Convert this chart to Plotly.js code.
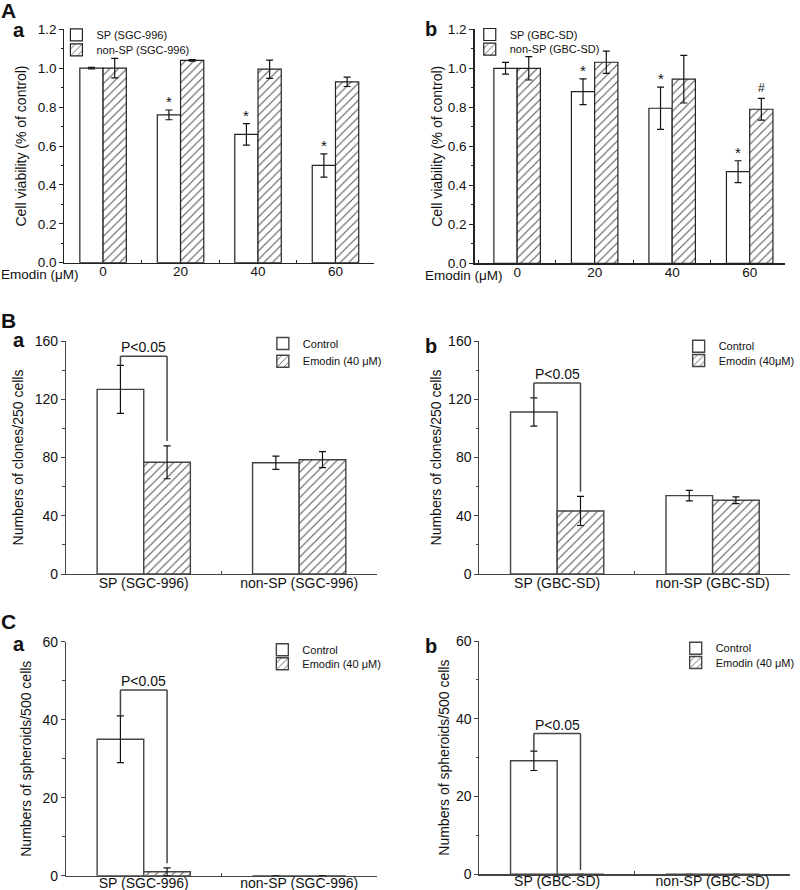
<!DOCTYPE html>
<html>
<head>
<meta charset="utf-8">
<script src="https://cdn.plot.ly/plotly-3.0.1.min.js"></script>
<style>html,body{margin:0;padding:0;background:#fff}#chart{width:800px;height:890px}</style>
</head>
<body>
<div id="chart"></div>
<script>
// ---------- DATA ----------
const doseLabels = ['0', '20', '40', '60'];

// Panel A-a (SGC-996)
const aaSP = [1.00, 0.76, 0.66, 0.50];
const aaSPErr = [0.004, 0.025, 0.055, 0.06];
const aaNon = [1.00, 1.04, 0.995, 0.93];
const aaNonErr = [0.05, 0.004, 0.047, 0.024];
const aaSPMarks = ['', '*', '*', '*'];
const aaNonMarks = ['', '', '', ''];

// Panel A-b (GBC-SD)
const abSP = [1.00, 0.88, 0.795, 0.47];
const abSPErr = [0.03, 0.066, 0.108, 0.056];
const abNon = [1.00, 1.031, 0.944, 0.79];
const abNonErr = [0.06, 0.057, 0.122, 0.056];
const abSPMarks = ['', '*', '*', '*'];
const abNonMarks = ['', '', '', '#'];

// Panel B (clones/250 cells)
const groupsSGC = ['SP (SGC-996)', 'non-SP (SGC-996)'];
const groupsGBC = ['SP (GBC-SD)', 'non-SP (GBC-SD)'];
const baCtrl = [126.8, 76.4];
const baCtrlErr = [16.5, 4.5];
const baEmo = [76.7, 78.5];
const baEmoErr = [11.3, 5.5];
const bbCtrl = [111.2, 53.8];
const bbCtrlErr = [9.7, 3.6];
const bbEmo = [43.3, 50.6];
const bbEmoErr = [10.0, 2.3];

// Panel C (spheroids/500 cells)
const caCtrl = [35.0, 0];
const caCtrlErr = [6.0, null];
const caEmo = [1.0, 0];
const caEmoErr = [1.0, null];
const cbCtrl = [29.2, 0];
const cbCtrlErr = [2.5, null];
const cbEmo = [0, 0];
const cbEmoErr = [null, null];

// significance brackets (Ba, Bb, Ca, Cb): top height and right-leg end
const bracketTop = [149.5, 131.2, 47.6, 36.2];
const bracketRightEnd = [91.3, 56.5, 3.2, 1.1];
const bracketText = 'P<0.05';

// ---------- STYLE ----------
const W = 800, H = 890;
const FONT = 'Arial, "Liberation Sans", sans-serif';
const BARGAP = 0.4;
const BARW = (1 - BARGAP) / 2;
const px = v => v / W;
const py = v => 1 - v / H;

const hatch = {shape: '/', fgcolor: '#555', bgcolor: '#fff', size: 6, solidity: 0.18};

const panels = [
  {xa: 'x', ya: 'y', cats: doseLabels, s: [aaSP, aaNon], e: [aaSPErr, aaNonErr],
   names: ['SP (SGC-996)', 'non-SP (SGC-996)'], marks: [aaSPMarks, aaNonMarks], col: '#222', blw: 1.2,
   xd: [65, 378], yd: [29.3, 262.7], xr: [-0.5, 3.5], yr: [0, 1.2], dt: 0.2, mdt: 0.1, fmt: '.1f',
   title: 'Cell viability (% of control)', tickSize: 13.5, so: 7, tls: -4, leg: [[80, 34.3], [80, 49.3]]},
  {xa: 'x2', ya: 'y2', cats: doseLabels, s: [abSP, abNon], e: [abSPErr, abNonErr],
   names: ['SP (GBC-SD)', 'non-SP (GBC-SD)'], marks: [abSPMarks, abNonMarks], col: '#222', blw: 1.2,
   xd: [479.3, 792.5], yd: [29.3, 263.3], xr: [-0.55, 3.45], yr: [0, 1.2], dt: 0.2, mdt: 0.1, fmt: '.1f',
   title: 'Cell viability (% of control)', tickSize: 13.5, so: 2, tls: -4, leg: [[497.5, 34], [497.5, 48.7]]},
  {xa: 'x3', ya: 'y3', cats: groupsSGC, s: [baCtrl, baEmo], e: [baCtrlErr, baEmoErr],
   names: ['Control', 'Emodin (40 μM)'], br: 0, col: '#444', blw: 1.4,
   xd: [66.7, 380.7], yd: [341, 574], xr: [-0.5, 1.5], yr: [0, 160], dt: 40, mdt: 20, fmt: '',
   title: 'Numbers of clones/250 cells', tickSize: 14, so: 7, tls: -4, leg: [[288.5, 343], [288.5, 360.7]]},
  {xa: 'x4', ya: 'y4', cats: groupsGBC, s: [bbCtrl, bbEmo], e: [bbCtrlErr, bbEmoErr],
   names: ['Control', 'Emodin (40μM)'], br: 1, col: '#444', blw: 1.4,
   xd: [484.3, 798.3], yd: [341, 574], xr: [-0.5, 1.5], yr: [0, 160], dt: 40, mdt: 20, fmt: '',
   title: 'Numbers of clones/250 cells', tickSize: 14, so: 3, tls: -4, leg: [[708.5, 345.7], [708.5, 360]]},
  {xa: 'x5', ya: 'y5', cats: groupsSGC, s: [caCtrl, caEmo], e: [caCtrlErr, caEmoErr],
   names: ['Control', 'Emodin (40 μM)'], br: 2, col: '#444', blw: 1.4,
   xd: [66.7, 380.7], yd: [641.7, 875.7], xr: [-0.5, 1.5], yr: [0, 60], dt: 20, mdt: 10, fmt: '',
   title: 'Numbers of spheroids/500 cells', tickSize: 14, so: 7, tls: -6, leg: [[288, 649.3], [288, 663.3]]},
  {xa: 'x6', ya: 'y6', cats: groupsGBC, s: [cbCtrl, cbEmo], e: [cbCtrlErr, cbEmoErr],
   names: ['Control', 'Emodin (40 μM)'], br: 3, col: '#444', blw: 1.4,
   xd: [484.3, 798.3], yd: [641, 874.3], xr: [-0.5, 1.5], yr: [0, 60], dt: 20, mdt: 10, fmt: '',
   title: 'Numbers of spheroids/500 cells', tickSize: 14, so: 3, tls: -6, leg: [[705.5, 647.7], [705.5, 662]]}
];

const traces = [];
const layout = {
  width: W, height: H, margin: {l: 0, r: 0, t: 0, b: 0},
  paper_bgcolor: '#fff', plot_bgcolor: 'rgba(0,0,0,0)',
  barmode: 'group', bargap: BARGAP, bargroupgap: 0,
  font: {family: FONT, color: '#111', size: 13},
  showlegend: true,
  annotations: [], shapes: []
};

let legN = 0;
panels.forEach(p => {
  const xk = 'xaxis' + p.xa.slice(1);
  const yk = 'yaxis' + p.ya.slice(1);
  [0, 1].forEach(k => {
    legN += 1;
    const legId = legN === 1 ? 'legend' : 'legend' + legN;
    traces.push({
      type: 'bar', x: p.cats, y: p.s[k], name: p.names[k],
      xaxis: p.xa, yaxis: p.ya, legend: legId,
      marker: k === 0
        ? {color: '#fff', line: {color: p.col, width: p.blw}}
        : {color: '#fff', pattern: hatch, line: {color: p.col, width: p.blw}},
      error_y: {type: 'data', array: p.e[k], visible: true, color: '#111', thickness: 1.2, width: 3.5},
      hoverinfo: 'skip'
    });
    // one legend per item so each entry sits where the reference puts it
    layout[legId] = {
      x: px(p.leg[k][0] - 23), y: py(p.leg[k][1] - 14), xanchor: 'left', yanchor: 'top',
      bgcolor: 'rgba(0,0,0,0)', borderwidth: 0, font: {family: FONT, size: 11, color: '#111'},
      tracegroupgap: 0, traceorder: 'normal', itemwidth: 30, itemclick: false
    };
  });
  layout[xk] = {
    type: 'category', domain: [px(p.xd[0]), px(p.xd[1])], range: p.xr, anchor: p.ya,
    showline: true, linecolor: p.col, linewidth: 1.2, showgrid: false, zeroline: false,
    tickson: 'boundaries', ticks: 'inside', ticklen: 3, tickcolor: p.col, tickwidth: 1,
    ticklabelstandoff: p.tls, layer: 'above traces',
    tickfont: {family: FONT, size: p.tickSize, color: '#111'}, fixedrange: true
  };
  layout[yk] = {
    domain: [py(p.yd[1]), py(p.yd[0])], range: p.yr, anchor: p.xa,
    showline: true, linecolor: p.col, linewidth: 1.2, showgrid: false, zeroline: false,
    ticks: 'outside', ticklen: 4, tickcolor: p.col, tickwidth: 1, dtick: p.dt, tick0: 0,
    tickformat: p.fmt,
    minor: {dtick: p.mdt, ticks: 'outside', ticklen: 2.5, tickcolor: p.col, showgrid: false},
    tickfont: {family: FONT, size: p.tickSize, color: '#111'},
    title: {text: p.title, font: {family: FONT, size: 14, color: '#111'}, standoff: p.so},
    fixedrange: true
  };

  // asterisk / hash marks above error bars
  if (p.marks) {
    [0, 1].forEach(k => {
      p.marks[k].forEach((m, i) => {
        if (!m) return;
        layout.annotations.push({
          xref: p.xa, yref: p.ya, x: i + (k - 0.5) * BARW, y: p.s[k][i] + p.e[k][i],
          text: m, showarrow: false, yanchor: 'bottom', xanchor: 'center',
          font: {family: FONT, size: m === '*' ? 15 : 12, color: '#111'}, yshift: m === '*' ? -2 : 1
        });
      });
    });
  }
  // significance bracket
  if (p.br !== undefined) {
    const top = bracketTop[p.br];
    const xl = 0 - 0.5 * BARW, xr = 0 + 0.5 * BARW;
    const leftEnd = p.s[0][0] + (p.e[0][0] || 0);
    const rightEnd = bracketRightEnd[p.br];
    const ln = {color: '#444', width: 1.5};
    layout.shapes.push(
      {type: 'line', xref: p.xa, yref: p.ya, x0: xl, x1: xl, y0: leftEnd, y1: top, line: ln},
      {type: 'line', xref: p.xa, yref: p.ya, x0: xl, x1: xr, y0: top, y1: top, line: ln},
      {type: 'line', xref: p.xa, yref: p.ya, x0: xr, x1: xr, y0: top, y1: rightEnd, line: ln}
    );
    layout.annotations.push({
      xref: p.xa, yref: p.ya, x: 0, y: top, text: bracketText, showarrow: false,
      yanchor: 'bottom', xanchor: 'center', font: {family: FONT, size: 14, color: '#111'}, yshift: -1
    });
  }
});

// panel letters and dose label
const paperText = (t, x, y, size, anchor) => ({
  xref: 'paper', yref: 'paper', x: px(x), y: py(y), text: t, showarrow: false,
  xanchor: anchor || 'left', yanchor: 'middle', font: {family: FONT, size: size, color: '#111'}
});
layout.annotations.push(
  paperText('<b>A</b>', -1, 10, 21),
  paperText('<b>a</b>', 11, 30, 20),
  paperText('<b>b</b>', 427, 29, 20),
  paperText('<b>B</b>', -1, 320, 21),
  paperText('<b>a</b>', 11, 340, 20),
  paperText('<b>b</b>', 427, 346, 20),
  paperText('<b>C</b>', -1, 621, 21),
  paperText('<b>a</b>', 11, 644, 20),
  paperText('<b>b</b>', 427, 646, 20),
  paperText('Emodin (μM)', -1, 274, 13.5),
  paperText('Emodin (μM)', 427, 275, 13.5)
);

Plotly.newPlot('chart', traces, layout, {staticPlot: true, displayModeBar: false});
</script>
</body>
</html>
